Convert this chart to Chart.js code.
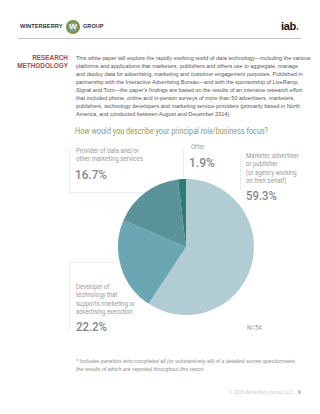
<!DOCTYPE html>
<html>
<head>
<meta charset="utf-8">
<script src="https://cdn.jsdelivr.net/npm/chart.js@4"></script>
<style>
  html, body { margin: 0; padding: 0; background: #fff; }
  body { width: 320px; height: 414px; position: relative; overflow: hidden; font-family: "Liberation Sans", Arial, sans-serif; }
  .abs { position: absolute; white-space: nowrap; }
  .narrow { font-family: "Roboto", "Liberation Sans", sans-serif; transform-origin: 0 0; }
  .lbl { color: #9a9a9a; font-size: 7px; line-height: 8.3px; }
  .pct { color: #878787; font-size: 12.5px; line-height: 14px; font-weight: 500; }
  .rule { position: absolute; background: #e9eff1; }
</style>
</head>
<body>
  <!-- header -->
  <div class="abs" style="left:20px; top:23px; font-size:5.6px; font-weight:bold; color:#333; letter-spacing:0.1px;">WINTERBERRY</div>
  <div class="abs" style="left:66px; top:20px; width:10px; height:10px; border:2px solid #6c9a3c; border-radius:50%; background:#8a9a94; color:#fff; font-size:8px; font-weight:bold; line-height:10px; text-align:center;">W</div>
  <div class="abs" style="left:83px; top:23px; font-size:5.6px; font-weight:bold; color:#333;">GROUP</div>
  <div class="abs" style="left:281px; top:20px; font-size:11px; font-weight:bold; color:#111; letter-spacing:-0.3px;">iab<span style="color:#e2231a">.</span></div>
  <div class="rule" style="left:18px; top:38px; width:283px; height:1px; background:#c4c4c4;"></div>

  <!-- research methodology -->
  <div class="abs" style="right:252px; top:53.7px; text-align:right; font-size:6.4px; line-height:8.1px; font-weight:bold; color:#b4473b;">RESEARCH<br>METHODOLOGY</div>
  <div class="abs" style="left:76px; top:53.7px; font-size:5.5px; line-height:8.1px; color:#555;">
    This white paper will explore the rapidly evolving world of data technology—including the various<br>
    platforms and applications that marketers, publishers and others use to aggregate, manage<br>
    and deploy data for advertising, marketing and customer engagement purposes. Published in<br>
    partnership with the Interactive Advertising Bureau—and with the sponsorship of LiveRamp,<br>
    Signal and Turn—the paper’s findings are based on the results of an intensive research effort<br>
    that included phone, online and in-person surveys of more than 50 advertisers, marketers,<br>
    publishers, technology developers and marketing service providers (primarily based in North<br>
    America, and conducted between August and December 2014).
  </div>

  <!-- question -->
  <div class="abs narrow fit" data-w="193" style="left:75px; top:125px; font-size:9.5px; line-height:12px; color:#8e9a62;">How would you describe your principal role/business focus?</div>

  <!-- faint bracket rules -->
  <div class="rule" style="left:69px; top:148px; width:1px; height:45px;"></div>
  <div class="rule" style="left:69px; top:192px; width:82px; height:1px;"></div>
  <div class="rule" style="left:183px; top:147px; width:1px; height:46px;"></div>
  <div class="rule" style="left:240px; top:156px; width:1px; height:34px;"></div>
  <div class="rule" style="left:69px; top:262px; width:50px; height:1px;"></div>
  <div class="rule" style="left:69px; top:262px; width:1px; height:70px;"></div>

  <!-- labels -->
  <div class="abs narrow lbl fit" data-w="67" style="left:76px; top:147px;">Provider of data and/or<br>other marketing services</div>
  <div class="abs narrow pct fit" data-w="32" style="left:75px; top:168px;">16.7%</div>

  <div class="abs narrow lbl fit" data-w="13.5" style="left:190.5px; top:143px;">Other</div>
  <div class="abs narrow pct fit" data-w="26" style="left:189px; top:156px;">1.9%</div>

  <div class="abs narrow lbl fit" data-w="53" style="left:246px; top:152px;">Marketer, advertiser<br>or publisher<br>(or agency working<br>on their behalf)</div>
  <div class="abs narrow pct fit" data-w="31" style="left:246px; top:189px;">59.3%</div>

  <div class="abs narrow lbl fit" data-w="59" style="left:76px; top:283px;">Developer of<br>technology that<br>supports marketing or<br>advertising execution</div>
  <div class="abs narrow pct fit" data-w="31" style="left:76px; top:320px;">22.2%</div>

  <div class="abs narrow fit" data-w="15" style="left:247px; top:324px; font-size:6.5px; color:#9a9a9a;">N=54</div>

  <!-- pie -->
  <div class="abs" style="left:116px; top:177px; width:140px; height:140px;">
    <canvas id="roleChart" width="140" height="140"></canvas>
  </div>

  <!-- footnote -->
  <div class="abs" style="left:76px; top:357px; font-size:5.3px; line-height:8px; font-style:italic; color:#8a8a8a;">
    * Includes panelists who completed all (or substantively all) of a detailed survey questionnaire,<br>
    the results of which are reported throughout this report.
  </div>

  <!-- footer -->
  <div class="abs" style="left:229px; top:390px; font-size:4.6px; color:#c8c8c8;">© 2015 Winterberry Group LLC</div>
  <div class="abs" style="left:298px; top:390px; font-size:4.8px; font-weight:bold; color:#999;">9</div>

<script>
const roles = [
  "Marketer, advertiser or publisher (or agency working on their behalf)",
  "Developer of technology that supports marketing or advertising execution",
  "Provider of data and/or other marketing services",
  "Other",
];
const shares = [59.3, 22.2, 16.7, 1.9];
const sliceColors = ["#b2ccd3", "#6ba7b3", "#5a9399", "#2f7b77"];

document.addEventListener("DOMContentLoaded", () => {
  // squeeze the condensed-looking labels to the widths they have in the print
  document.querySelectorAll(".fit").forEach((el) => {
    const target = Number(el.dataset.w || 0);
    const w = el.scrollWidth;
    if (target && w) el.style.transform = `scaleX(${target / w})`;
  });

  const canvas = document.getElementById("roleChart");
  new Chart(canvas, {
    type: "pie",
    data: {
      labels: roles,
      datasets: [
        {
          data: shares,
          backgroundColor: sliceColors,
          borderWidth: 0,
        },
      ],
    },
    options: {
      responsive: false,
      animation: false,
      layout: { padding: 2 },
      plugins: {
        legend: { display: false },
        tooltip: { enabled: false },
      },
    },
  });
});
</script>
</body>
</html>
